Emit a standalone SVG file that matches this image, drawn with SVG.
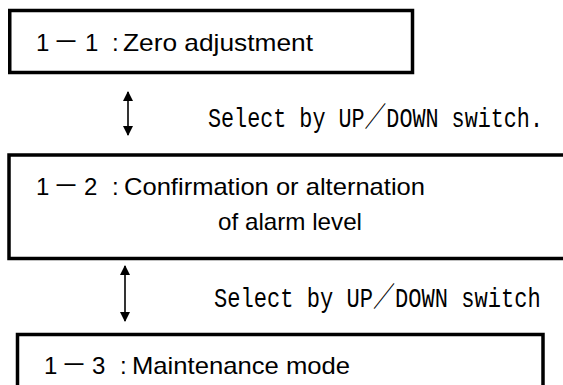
<svg xmlns="http://www.w3.org/2000/svg" width="563" height="385" viewBox="0 0 563 385">
<style>
.box{fill:#fff;stroke:#000;stroke-width:3.5}
.t{font-family:"Liberation Sans",Arial,sans-serif;font-size:24px;fill:#000}
.d{font-family:"Noto Sans CJK JP","Noto Sans CJK SC",sans-serif;font-size:26px}
.m{font-family:"Liberation Mono","Noto Sans CJK JP",monospace;font-size:28px;fill:#000}
.ar{stroke:#000;stroke-width:1.6;fill:none}
</style>
<defs>
<marker id="ah" viewBox="0 0 10 10" refX="9" refY="5" markerWidth="10" markerHeight="10" markerUnits="userSpaceOnUse" orient="auto-start-reverse">
<path d="M0,0 L10,5 L0,10 Z" fill="#000"/>
</marker>
</defs>
<rect width="563" height="385" fill="#fff"/>
<g id="node1">
<rect class="box" x="9.75" y="10.5" width="402.75" height="62"/>
<text class="t" y="51"><tspan x="36">1</tspan><tspan class="d" x="53">－</tspan><tspan x="85">1</tspan><tspan x="112">:</tspan><tspan x="123" textLength="190" lengthAdjust="spacingAndGlyphs">Zero adjustment</tspan></text>
</g>
<g id="node2">
<rect class="box" x="9" y="155" width="570" height="103.5"/>
<text class="t" y="195"><tspan x="36">1</tspan><tspan class="d" x="53">－</tspan><tspan x="84">2</tspan><tspan x="112">:</tspan><tspan x="124" textLength="301" lengthAdjust="spacingAndGlyphs">Confirmation or alternation</tspan></text>
<text class="t" x="218" y="230" textLength="144" lengthAdjust="spacingAndGlyphs">of alarm level</text>
</g>
<g id="node3">
<rect class="box" x="17.5" y="334.5" width="525.5" height="70"/>
<text class="t" y="374"><tspan x="44">1</tspan><tspan class="d" x="61">－</tspan><tspan x="92">3</tspan><tspan x="120">:</tspan><tspan x="132" textLength="218" lengthAdjust="spacingAndGlyphs">Maintenance mode</tspan></text>
</g>
<g id="connectors">
<line class="ar" x1="128" y1="92" x2="128" y2="135" marker-start="url(#ah)" marker-end="url(#ah)"/>
<line class="ar" x1="125" y1="266" x2="125" y2="321" marker-start="url(#ah)" marker-end="url(#ah)"/>
<text class="m" transform="translate(208,127) scale(0.777,1)">Select by UP／DOWN switch.</text>
<text class="m" transform="translate(214,307) scale(0.789,1)">Select by UP／DOWN switch</text>
</g>
</svg>
